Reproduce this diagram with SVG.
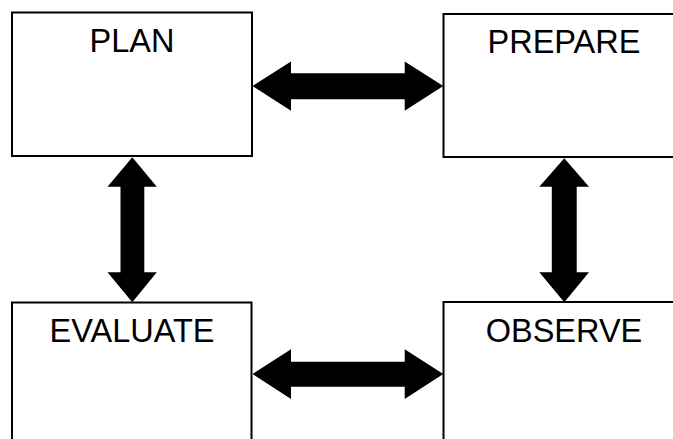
<svg xmlns="http://www.w3.org/2000/svg" width="673" height="439" viewBox="0 0 673 439">
<style>
.box{fill:#fff;stroke:#000;stroke-width:2}
.lbl{font-family:"Liberation Sans",Arial,sans-serif;font-size:32.5px;fill:#000;text-anchor:middle}
.arr{fill:#000;stroke:none}
</style>
<rect width="673" height="439" fill="#fff"/>
<g id="plan"><rect class="box" x="12" y="12.5" width="240" height="143.5"/><text class="lbl" x="132" y="52.3">PLAN</text></g>
<g id="prepare"><rect class="box" x="443.5" y="14" width="240" height="143"/><text class="lbl" x="564" y="53.3">PREPARE</text></g>
<g id="evaluate"><rect class="box" x="12" y="302.5" width="239.5" height="150"/><text class="lbl" x="132" y="342.3">EVALUATE</text></g>
<g id="observe"><rect class="box" x="443.5" y="302" width="240" height="150"/><text class="lbl" x="564" y="342.3">OBSERVE</text></g>
<g id="connectors">
<polygon class="arr" points="252.5,86 291,61.5 291,73.3 404.7,73.3 404.7,61.5 443.3,86 404.7,110.7 404.7,99.3 291,99.3 291,110.7"/>
<polygon class="arr" points="252.5,374 291,349.3 291,361.7 404.7,361.7 404.7,349.3 443.3,374 404.7,399 404.7,386.7 291,386.7 291,399"/>
<polygon class="arr" points="132.3,157.3 156.8,186.7 144.3,186.7 144.3,272.3 156.8,272.3 132.3,302.3 107.5,272.3 120.5,272.3 120.5,186.7 107.5,186.7"/>
<polygon class="arr" points="564.3,158.3 589,186.7 576.7,186.7 576.7,272.3 589,272.3 564.3,302.3 539.3,272.3 551.8,272.3 551.8,186.7 539.3,186.7"/>
</g>
</svg>
